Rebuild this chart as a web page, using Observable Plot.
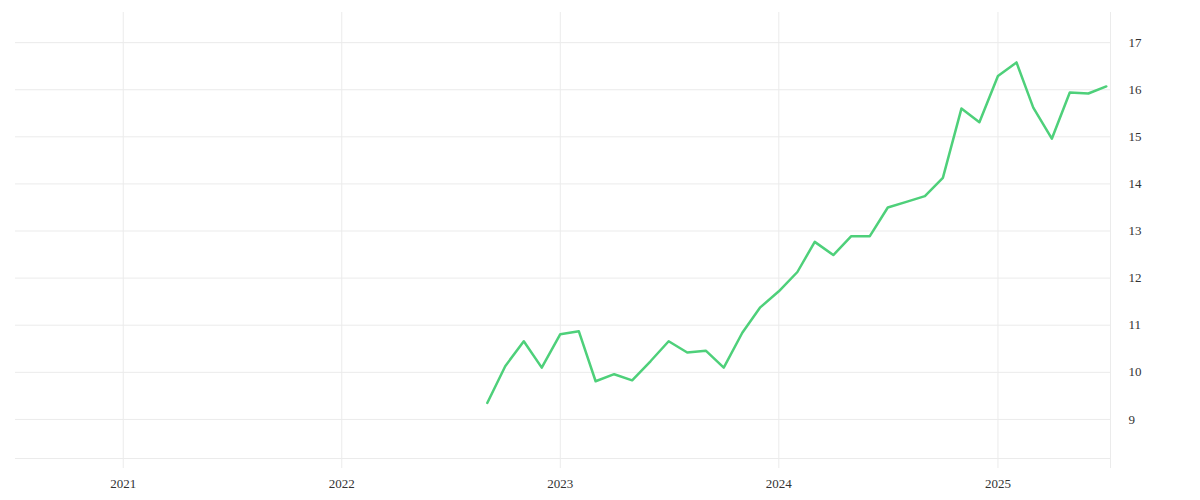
<!DOCTYPE html>
<html>
<head>
<meta charset="utf-8">
<script src="https://cdn.jsdelivr.net/npm/d3@7"></script>
<script src="https://cdn.jsdelivr.net/npm/@observablehq/plot@0.6"></script>
<style>
  html, body { margin: 0; padding: 0; background: #fff; }
</style>
</head>
<body>
<div id="chart"></div>
<script>
const months = [
  "2022-09","2022-10","2022-11","2022-12",
  "2023-01","2023-02","2023-03","2023-04","2023-05","2023-06","2023-07","2023-08","2023-09","2023-10","2023-11","2023-12",
  "2024-01","2024-02","2024-03","2024-04","2024-05","2024-06","2024-07","2024-08","2024-09","2024-10","2024-11","2024-12",
  "2025-01","2025-02","2025-03","2025-04","2025-05","2025-06","2025-07"
];
const values = [
  9.35, 10.13, 10.66, 10.10,
  10.81, 10.87, 9.81, 9.96, 9.83, 10.24, 10.66, 10.42, 10.46, 10.10, 10.84, 11.38,
  11.72, 12.13, 12.77, 12.49, 12.89, 12.89, 13.50, 13.62, 13.74, 14.13, 15.60, 15.31,
  16.29, 16.58, 15.62, 14.96, 15.94, 15.92, 16.07
];
const yTicks = [9, 10, 11, 12, 13, 14, 15, 16, 17];
const xTicks = ["2021-01-01", "2022-01-01", "2023-01-01", "2024-01-01", "2025-01-01"];
const xDomain = ["2020-07-05", "2025-07-08"];
const yDomain = [8.17, 17.64];

const data = months.map((m, i) => ({date: new Date(m + "-01T00:00:00Z"), value: values[i]}));
const xTickDates = xTicks.map(d => new Date(d + "T00:00:00Z"));
const xDomainDates = xDomain.map(d => new Date(d + "T00:00:00Z"));

const grid = "#ebebeb";

const chart = Plot.plot({
  width: 1200,
  height: 500,
  marginLeft: 15,
  marginRight: 90,
  marginTop: 12,
  marginBottom: 42,
  style: {fontFamily: "'Liberation Serif', serif", fontSize: "13px", color: "#333", background: "#fff"},
  x: {type: "utc", domain: xDomainDates},
  y: {domain: yDomain},
  marks: [
    Plot.ruleY(yTicks, {stroke: grid, strokeWidth: 1}),
    Plot.ruleY([yDomain[0]], {stroke: grid, strokeWidth: 1}),
    Plot.ruleX(xTickDates, {stroke: grid, strokeWidth: 1, insetBottom: -10}),
    Plot.ruleX([xDomainDates[1]], {stroke: grid, strokeWidth: 1, insetBottom: -10}),
    Plot.line(data, {x: "date", y: "value", stroke: "#4ed07a", strokeWidth: 2.5, curve: "linear"}),
    Plot.axisY(yTicks, {anchor: "right", tickSize: 0, tickPadding: 18, fontSize: 13, fill: "#333", label: null}),
    Plot.axisX(xTickDates, {anchor: "bottom", tickSize: 0, tickPadding: 20, fontSize: 13, fill: "#333", label: null, tickFormat: d3.utcFormat("%Y")})
  ]
});
document.getElementById("chart").appendChild(chart);
</script>
</body>
</html>
